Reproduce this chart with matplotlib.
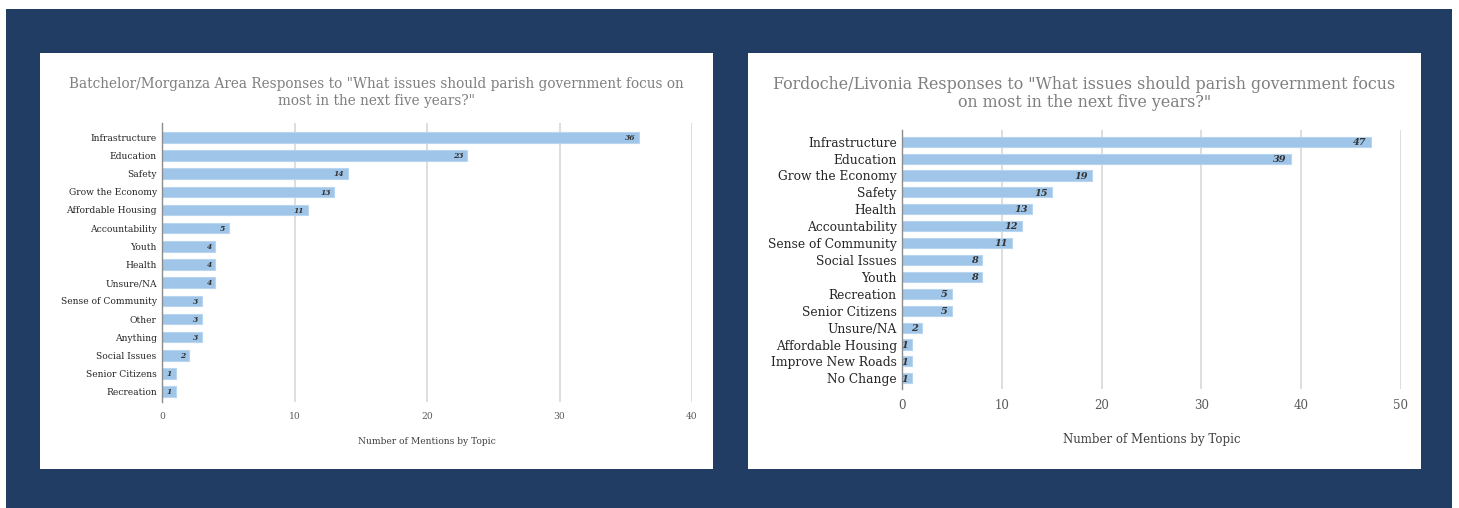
import matplotlib
matplotlib.use("Agg")
import matplotlib.pyplot as plt
from matplotlib.patches import Rectangle

# ---------------- data ----------------
left_title = 'Batchelor/Morganza Area Responses to "What issues should parish government focus on\nmost in the next five years?"'
left_cats = ["Infrastructure", "Education", "Safety", "Grow the Economy", "Affordable Housing",
             "Accountability", "Youth", "Health", "Unsure/NA", "Sense of Community",
             "Other", "Anything", "Social Issues", "Senior Citizens", "Recreation"]
left_vals = [36, 23, 14, 13, 11, 5, 4, 4, 4, 3, 3, 3, 2, 1, 1]
left_ticks = [0, 10, 20, 30, 40]

right_title = 'Fordoche/Livonia Responses to "What issues should parish government focus\non most in the next five years?"'
right_cats = ["Infrastructure", "Education", "Grow the Economy", "Safety", "Health",
              "Accountability", "Sense of Community", "Social Issues", "Youth", "Recreation",
              "Senior Citizens", "Unsure/NA", "Affordable Housing", "Improve New Roads", "No Change"]
right_vals = [47, 39, 19, 15, 13, 12, 11, 8, 8, 5, 5, 2, 1, 1, 1]
right_ticks = [0, 10, 20, 30, 40, 50]

xlabel = "Number of Mentions by Topic"

# ---------------- style ----------------
W, H = 1459, 508
NAVY = "#223d63"
BAR = "#9fc5e8"
BAR_EDGE = "#b9d6f0"
GRID = "#dedede"
FONT = "DejaVu Serif"

plt.rcParams["font.family"] = FONT
fig = plt.figure(figsize=(W / 100, H / 100), dpi=100, facecolor="white")

def px_rect(x0, y0, x1, y1, color):
    fig.patches.append(Rectangle((x0 / W, 1 - y1 / H), (x1 - x0) / W, (y1 - y0) / H,
                                 transform=fig.transFigure, facecolor=color,
                                 edgecolor="none", zorder=-10))

px_rect(6, 9, 1452, 508, NAVY)
px_rect(40, 53, 713, 469, "white")
px_rect(748, 53, 1421, 469, "white")


def panel(ax_px, ylim, cats, vals, ticks, title, title_xy, title_size, title_ls, lab_size,
          val_size, tick_size, xlab_size, xlab_y, bar_h, val_off):
    x0, y0, x1, y1 = ax_px
    ax = fig.add_axes([x0 / W, 1 - y1 / H, (x1 - x0) / W, (y1 - y0) / H])
    ax.set_facecolor("none")
    y = list(range(len(cats)))
    ax.barh(y, vals, height=bar_h, color=BAR, edgecolor=BAR_EDGE, linewidth=0.8, zorder=3)
    ax.set_xlim(ticks[0], ticks[-1])
    ax.set_ylim(*ylim)
    ax.set_yticks(y)
    ax.set_yticklabels(cats, fontsize=lab_size, color="#262626")
    ax.set_xticks(ticks)
    ax.set_xticklabels([str(t) for t in ticks], fontsize=tick_size, color="#595959")
    ax.tick_params(axis="both", length=0)
    ax.tick_params(axis="y", pad=4)
    ax.tick_params(axis="x", pad=7)
    ax.grid(axis="x", color=GRID, linewidth=1.4, zorder=0)
    for s in ["top", "right", "bottom"]:
        ax.spines[s].set_visible(False)
    ax.spines["left"].set_color("#8c8c8c")
    ax.spines["left"].set_linewidth(1.0)
    ax.spines["left"].set_zorder(4)
    for yi, v in zip(y, vals):
        ax.annotate(str(v), (v, yi), xytext=(-val_off, -0.5), textcoords="offset points",
                    ha="right", va="center", fontsize=val_size, style="italic",
                    fontweight="bold", color="#333333", zorder=5)
    fig.text(title_xy[0] / W, 1 - title_xy[1] / H, title, ha="center", va="center",
             fontsize=title_size, color="#7f7f7f", linespacing=title_ls)
    fig.text(((x0 + x1) / 2) / W, 1 - xlab_y / H, xlabel, ha="center", va="center",
             fontsize=xlab_size, color="#404040")
    return ax


panel((162.3, 123, 692, 402), (14.567, -0.787), left_cats, left_vals, left_ticks,
      left_title, (376.5, 92.5), 9.8, 1.2, 6.6, 5.5, 6.6, 6.6, 442, 0.58, 2.5)
panel((902.3, 129.5, 1400.5, 389.3), (14.65, -0.72), right_cats, right_vals, right_ticks,
      right_title, (1084.5, 93.5), 11.4, 1.08, 8.8, 7.0, 8.5, 8.5, 439, 0.6, 3)

fig.savefig("out.png", dpi=100, facecolor="white")
